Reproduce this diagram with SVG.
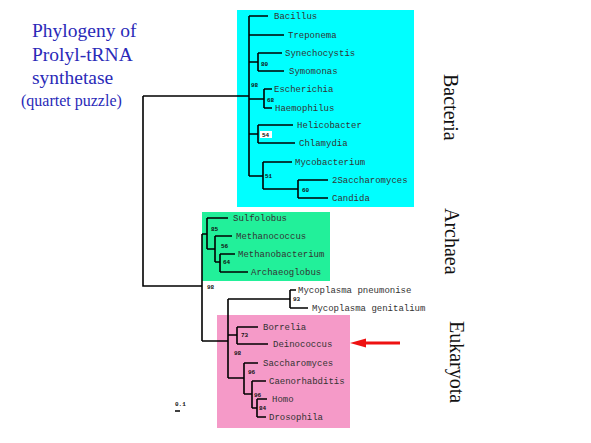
<svg xmlns="http://www.w3.org/2000/svg" width="591" height="443" viewBox="0 0 591 443">
<style>
.title{font-family:"Liberation Serif",serif;fill:#2a2ab8}
.clade{font-family:"Liberation Serif",serif;font-size:20px;fill:#111}
.taxon{font-family:"Liberation Mono",monospace;font-size:9px;fill:#333}
.bs{font-family:"Liberation Mono",monospace;font-size:6px;font-weight:bold;fill:#111}
.edge{fill:none;stroke:#000;stroke-width:1.6}
</style>
<rect width="591" height="443" fill="#fff"/>
<g id="boxes">
<rect id="box-bacteria" x="237" y="10" width="177" height="197" fill="#00ffff"/>
<rect id="box-archaea" x="202" y="212" width="128" height="69" fill="#22f09a"/>
<rect id="box-eukaryota" x="217" y="315" width="133" height="113" fill="#f59ac8"/>
</g>
<g id="title">
<text class="title" x="32" y="37" font-size="19.5">Phylogeny of</text>
<text class="title" x="32" y="61" font-size="19.5">Prolyl-tRNA</text>
<text class="title" x="32" y="84" font-size="19.5">synthetase</text>
<text class="title" x="21" y="106" font-size="16">(quartet puzzle)</text>
</g>
<g id="connectors" class="edge">
<path d="M143,96 H249 M143,96 V286 H202"/>
<path d="M249,16 V176 M249,16 H268 M249,35 H284"/>
<path d="M249,62 H258 M258,53 V71 M258,53 H282 M258,71 H284"/>
<path d="M249,99 H264 M264,89 V108 M264,89 H272 M264,108 H272"/>
<path d="M249,134 H258 M258,125 V143 M258,125 H293 M258,143 H295"/>
<path d="M249,176 H263 M263,162 V189 M263,162 H292 M263,189 H298 M298,180 V198 M298,180 H328 M298,198 H328"/>
<path d="M202,234 V341"/>
<path d="M202,234 H207 M207,218 V249 M207,218 H228 M207,249 H215 M215,236 V262 M215,236 H232 M215,262 H220 M220,254 V272 M220,254 H235 M220,272 H248"/>
<path d="M202,341 H228 M228,299 V378 M228,299 H290 M290,290 V308 M290,290 H296 M290,308 H308"/>
<path d="M228,335 H237 M237,327 V344 M237,327 H258 M237,344 H268"/>
<path d="M228,378 H244 M244,363 V394 M244,363 H258 M244,394 H252 M252,381 V408 M252,381 H266 M252,408 H257 M257,399 V417 M257,399 H267 M257,417 H266"/>
</g>
<g id="bootstrap">
<text class="bs" x="261" y="66">80</text>
<text class="bs" x="251" y="87">98</text>
<text class="bs" x="267" y="102">68</text>
<rect x="260" y="131" width="12" height="7" fill="#fff"/>
<text class="bs" x="262" y="137">54</text>
<text class="bs" x="265" y="178">51</text>
<text class="bs" x="302" y="192">60</text>
<text class="bs" x="211" y="231">85</text>
<text class="bs" x="221" y="248">56</text>
<text class="bs" x="223" y="264">64</text>
<text class="bs" x="207" y="289">98</text>
<text class="bs" x="293" y="301">93</text>
<text class="bs" x="241" y="337">73</text>
<text class="bs" x="234" y="355">98</text>
<text class="bs" x="248" y="374">96</text>
<text class="bs" x="254" y="397">96</text>
<text class="bs" x="259" y="410">84</text>
</g>
<g id="n-bacillus"><text class="taxon" x="274" y="19">Bacillus</text></g>
<g id="n-treponema"><text class="taxon" x="288" y="38">Treponema</text></g>
<g id="n-synechocystis"><text class="taxon" x="285" y="56">Synechocystis</text></g>
<g id="n-symomonas"><text class="taxon" x="289" y="74">Symomonas</text></g>
<g id="n-escherichia"><text class="taxon" x="274" y="92">Escherichia</text></g>
<g id="n-haemophilus"><text class="taxon" x="275" y="111">Haemophilus</text></g>
<g id="n-helicobacter"><text class="taxon" x="297" y="128">Helicobacter</text></g>
<g id="n-chlamydia"><text class="taxon" x="299" y="146">Chlamydia</text></g>
<g id="n-mycobacterium"><text class="taxon" x="295" y="165">Mycobacterium</text></g>
<g id="n-2saccharomyces"><text class="taxon" x="332" y="183">2Saccharomyces</text></g>
<g id="n-candida"><text class="taxon" x="332" y="201">Candida</text></g>
<g id="n-sulfolobus"><text class="taxon" x="233" y="221">Sulfolobus</text></g>
<g id="n-methanococcus"><text class="taxon" x="236" y="239">Methanococcus</text></g>
<g id="n-methanobacterium"><text class="taxon" x="238" y="257">Methanobacterium</text></g>
<g id="n-archaeoglobus"><text class="taxon" x="251" y="275">Archaeoglobus</text></g>
<g id="n-mpneumonise"><text class="taxon" x="298" y="293">Mycoplasma pneumonise</text></g>
<g id="n-mgenitalium"><text class="taxon" x="312" y="311">Mycoplasma genitalium</text></g>
<g id="n-borrelia"><text class="taxon" x="263" y="330">Borrelia</text></g>
<g id="n-deinococcus"><text class="taxon" x="273" y="347">Deinococcus</text></g>
<g id="n-saccharomyces"><text class="taxon" x="263" y="366">Saccharomyces</text></g>
<g id="n-caenorhabditis"><text class="taxon" x="269" y="384">Caenorhabditis</text></g>
<g id="n-homo"><text class="taxon" x="272" y="402">Homo</text></g>
<g id="n-drosophila"><text class="taxon" x="269" y="420">Drosophila</text></g>
<g id="clade-labels">
<text class="clade" transform="translate(444,74) rotate(90)">Bacteria</text>
<text class="clade" transform="translate(445,208) rotate(90)">Archaea</text>
<text class="clade" transform="translate(450,321) rotate(90)">Eukaryota</text>
</g>
<g id="arrow">
<path d="M400,343 H363" stroke="#ee1111" stroke-width="3" fill="none"/>
<polygon points="350,343 366,338.5 366,347.5" fill="#ee1111"/>
</g>
<g id="scale">
<text class="bs" x="175" y="406">0.1</text>
<path d="M175,411 H180" stroke="#000" stroke-width="1.5"/>
</g>
</svg>
